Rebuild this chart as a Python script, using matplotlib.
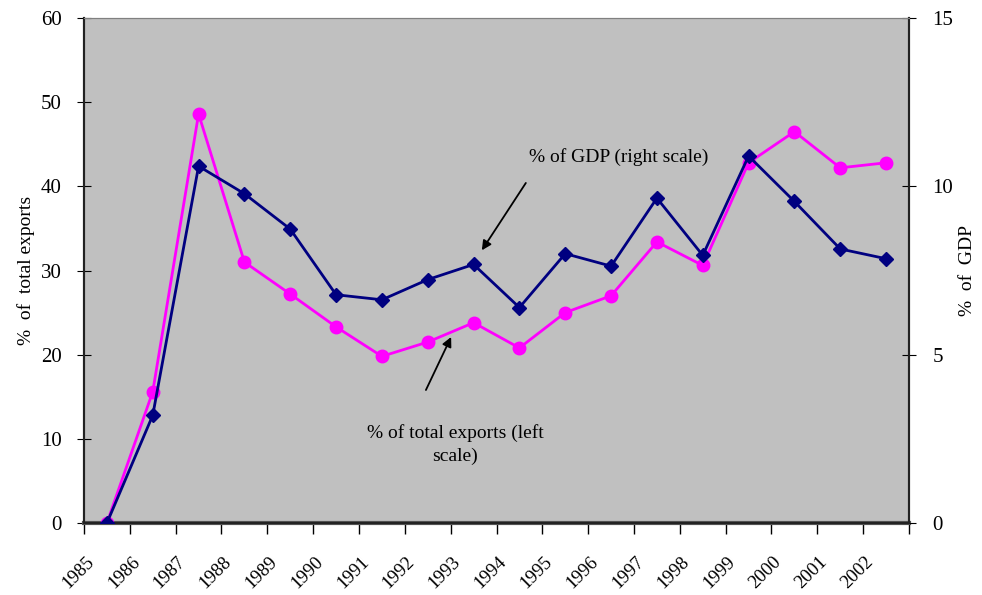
import matplotlib.pyplot as plt
import numpy as np

plt.rcParams['font.family'] = ['Liberation Serif', 'DejaVu Serif']

years = [str(y) for y in range(1985, 2003)]
# share of total exports (left axis, %)
exports_pct = [0, 15.6, 48.6, 31.0, 27.2, 23.3, 19.8, 21.5, 23.8, 20.8,
               25.0, 27.0, 33.4, 30.6, 42.8, 46.5, 42.2, 42.8]
# share of GDP (right axis, %)
gdp_pct = [0, 3.2, 10.6, 9.78, 8.73, 6.78, 6.63, 7.23, 7.68, 6.4,
           8.0, 7.63, 9.65, 7.95, 10.9, 9.55, 8.14, 7.85]

x = np.arange(len(years))

fig = plt.figure(figsize=(9.82, 5.95), dpi=100)
ax1 = fig.add_axes([84/982, 72/595, 825/982, 505/595])
ax1.set_facecolor('#C0C0C0')

ax1.plot(x, exports_pct, color='#FF00FF', lw=2, marker='o', ms=9, zorder=3)
ax1.set_xlim(-0.5, len(years) - 0.5)
ax1.set_ylim(0, 60)
ax1.set_yticks(range(0, 61, 10))
ax1.set_ylabel('%  of  total exports', fontsize=14, labelpad=4)

ax2 = ax1.twinx()
ax2.plot(x, gdp_pct, color='#000080', lw=2, marker='D', ms=7, zorder=3)
ax2.set_ylim(0, 15)
ax2.set_yticks([0, 5, 10, 15])
ax2.set_ylabel('%  of  GDP', fontsize=14, labelpad=4)

# category ticks on the boundaries; slanted year labels hang just left of each point
ax1.set_xticks(np.arange(-0.5, len(years), 1))
ax1.set_xticklabels([])
ax1.set_xticks(x - 0.47, minor=True)
ax1.set_xticklabels(years, minor=True, rotation=45, ha='right', va='top',
                    rotation_mode='anchor', fontsize=13.5)
ax1.tick_params(axis='x', which='major', direction='out', length=8, width=1)
ax1.tick_params(axis='x', which='minor', length=0, pad=22)
ax1.tick_params(axis='y', direction='inout', length=10, labelsize=15, pad=11)
ax2.tick_params(axis='y', direction='inout', length=10, labelsize=15, pad=12)

for ax in (ax1, ax2):
    for side in ('left', 'right', 'bottom'):
        ax.spines[side].set_linewidth(1.5)
        ax.spines[side].set_color('#222222')
    ax.spines['top'].set_color('#808080')
ax1.spines['bottom'].set_color('#555555')
ax1.spines['bottom'].set_linewidth(3)

arrow = dict(arrowstyle='-|>', color='black', lw=1.3, mutation_scale=14,
             shrinkA=0, shrinkB=0)
ax2.text(11.17, 43.5 / 4, '% of GDP (right scale)', fontsize=14,
         ha='center', va='center')
ax2.annotate('', xy=(8.18, 32.4 / 4), xytext=(9.14, 40.4 / 4), arrowprops=arrow)
ax2.annotate('', xy=(7.51, 22.1 / 4), xytext=(6.96, 15.8 / 4), arrowprops=arrow)
ax2.text(7.6, 9.3 / 4, '% of total exports (left\nscale)', fontsize=14,
         ha='center', va='center', linespacing=1.45)

fig.savefig('out.png', dpi=100)
